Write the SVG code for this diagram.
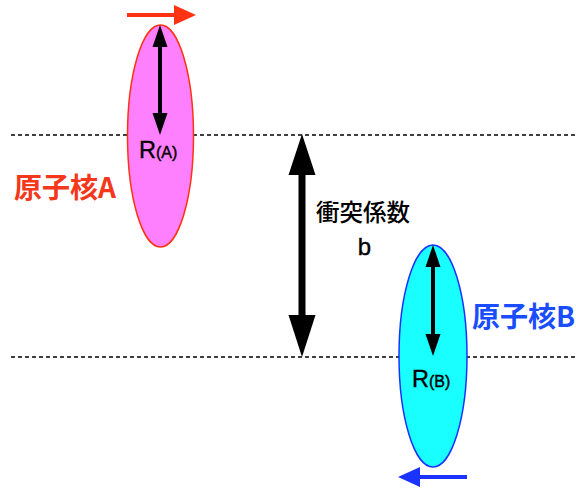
<svg xmlns="http://www.w3.org/2000/svg" width="576" height="488" viewBox="0 0 576 488">
  <style>
    .dash { stroke: #000; stroke-width: 1.3; stroke-dasharray: 4 3; fill: none; }
    .shaft { stroke: #000; stroke-width: 4; fill: none; }
    .lbl { font-family: "Liberation Sans", "Noto Sans CJK JP", sans-serif; fill: #000; stroke: #000; stroke-width: 0.4; }
    .jp { font-family: "Noto Sans CJK JP", sans-serif; font-weight: bold; }
    .head { fill: #000; }
  </style>

  <!-- impact parameter reference lines -->
  <g id="guides">
    <line class="dash" x1="11" y1="135" x2="576" y2="135"/>
    <line class="dash" x1="11" y1="357" x2="576" y2="357"/>
  </g>

  <!-- nucleus A -->
  <g id="nucleusA">
    <ellipse cx="160.5" cy="136" rx="33" ry="111" fill="#ff80ff" stroke="#ff3311" stroke-width="1.5"/>
    <text class="jp" x="14" y="198" font-size="28" fill="#f5371c">原子核A</text>
    <text class="lbl" x="139" y="158" font-size="23.5">R<tspan font-size="16">(A)</tspan></text>
  </g>

  <!-- nucleus B -->
  <g id="nucleusB">
    <ellipse cx="433" cy="356" rx="34" ry="111" fill="#19ffff" stroke="#1a33ff" stroke-width="1.5"/>
    <text class="jp" x="472" y="327" font-size="28" fill="#1a4dff">原子核B</text>
    <text class="lbl" x="412" y="387" font-size="23.5">R<tspan font-size="16">(B)</tspan></text>
  </g>

  <!-- impact parameter label -->
  <g id="impact">
    <text x="316" y="221" font-size="23.5" font-family="Noto Sans CJK JP, sans-serif" font-weight="500">衝突係数</text>
    <text class="lbl" x="364.5" y="255" font-size="24" text-anchor="middle">b</text>
  </g>

  <g id="connectors">
    <!-- radius arrows -->
    <line class="shaft" x1="160" y1="40" x2="160" y2="120"/>
    <path class="head" d="M160,25 L167.5,47 L152.5,47 Z"/>
    <path class="head" d="M160,135 L167.5,113 L152.5,113 Z"/>
    <line class="shaft" x1="433" y1="260" x2="433" y2="341"/>
    <path class="head" d="M433,245 L440.5,267 L425.5,267 Z"/>
    <path class="head" d="M433,356 L440.5,334 L425.5,334 Z"/>
    <!-- impact parameter arrow -->
    <line x1="302" y1="160" x2="302" y2="330" stroke="#000" stroke-width="7"/>
    <path class="head" d="M302,134 L315.5,175 L288.5,175 Z"/>
    <path class="head" d="M302,357 L315.5,315 L288.5,315 Z"/>
    <!-- motion arrows -->
    <line x1="127" y1="15" x2="176" y2="15" stroke="#ff3311" stroke-width="4"/>
    <path d="M196,15 L174,5 L174,25 Z" fill="#ff3311"/>
    <line x1="467" y1="477" x2="417" y2="477" stroke="#1a33ff" stroke-width="4"/>
    <path d="M398,477 L420,467 L420,487 Z" fill="#1a33ff"/>
  </g>
</svg>
